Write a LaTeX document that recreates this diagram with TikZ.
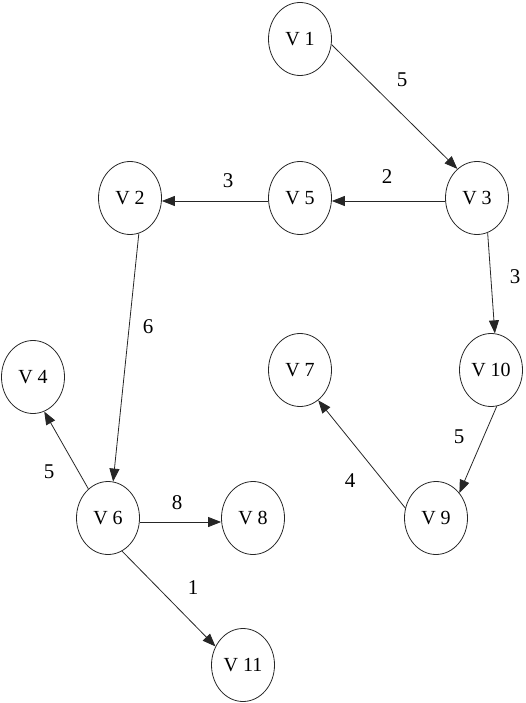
\documentclass[tikz,border=0pt]{standalone}
\usepackage{fontspec}
\setmainfont{Liberation Serif}
\usetikzlibrary{shapes.geometric,arrows.meta}
\begin{document}
\begin{tikzpicture}[x=1pt,y=-1pt,
  vert/.style={draw=black!85,ellipse,line width=0.8pt,minimum width=63pt,minimum height=73pt,inner sep=0pt,font=\fontsize{20}{22}\selectfont},
  edge/.style={draw=black!85,line width=0.8pt,-{Triangle[length=13pt,width=10pt]}},
  wt/.style={font=\fontsize{21}{23}\selectfont,inner sep=0pt}]
\useasboundingbox (0,0) rectangle (526,703);
\node[vert] (V1) at (300,39) {V 1};
\node[vert] (V3) at (477,198) {V 3};
\node[vert] (V5) at (300,198) {V 5};
\node[vert] (V2) at (130,198) {V 2};
\node[vert] (V4) at (33,377) {V 4};
\node[vert] (V7) at (300,370) {V 7};
\node[vert] (V10) at (491,370) {V 10};
\node[vert] (V6) at (108,518) {V 6};
\node[vert] (V8) at (253,518) {V 8};
\node[vert] (V9) at (436,518) {V 9};
\node[vert] (V11) at (243,665) {V 11};
\draw[edge] (V1.-10) -- (V3.124);
\draw[edge] ([yshift=-3pt]V3.west) -- ([yshift=-3pt]V5.east);
\draw[edge] ([yshift=-3pt]V5.west) -- ([yshift=-3pt]V2.east);
\draw[edge] (V2.-76) -- (V6.82);
\draw[edge] (V6.124) -- (V4.-72);
\draw[edge] ([yshift=-4pt]V6.east) -- ([yshift=-4pt]V8.west);
\draw[edge] (V6.-67) -- (V11.146);
\draw[edge] (V3.-73) -- (V10.84);
\draw[edge] (V10.-81) -- (V9.47);
\draw[edge] (V9.162) -- (V7.-59);
\node[wt] (w13) at (402,80) {5};
\node[wt] (w35) at (387,177) {2};
\node[wt] (w52) at (228,181) {3};
\node[wt] (w26) at (148,327) {6};
\node[wt] (w310) at (515,277) {3};
\node[wt] (w64) at (49,472) {5};
\node[wt] (w109) at (459,437) {5};
\node[wt] (w97) at (350,481) {4};
\node[wt] (w68) at (177,503) {8};
\node[wt] (w611) at (193,588) {1};
\end{tikzpicture}
\end{document}
